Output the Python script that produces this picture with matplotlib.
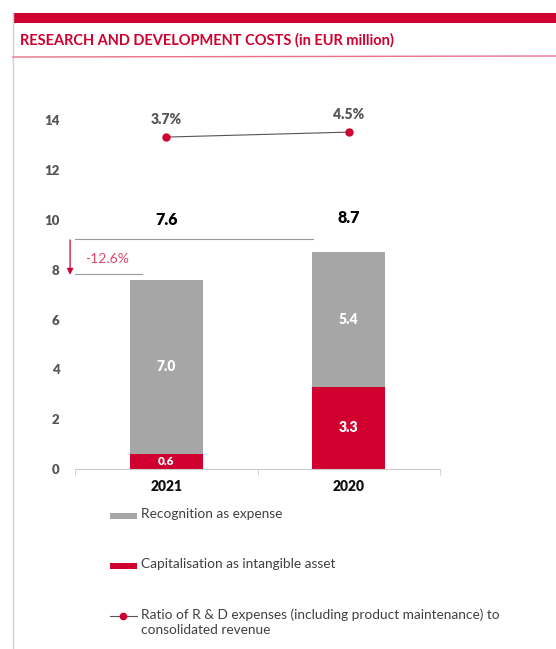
import matplotlib.pyplot as plt
from matplotlib.patches import Rectangle
from matplotlib.lines import Line2D

# data
years = ['2021', '2020']
expense = [7.0, 5.4]        # Recognition as expense
capitalised = [0.6, 3.3]    # Capitalisation as intangible asset
totals = [7.6, 8.7]
ratio = [3.7, 4.5]          # R&D ratio to revenue in %
y_ticks = [0, 2, 4, 6, 8, 10, 12, 14]

legend_labels = ['Recognition as expense',
                 'Capitalisation as intangible asset',
                 'Ratio of R & D expenses (including product maintenance) to\nconsolidated revenue']

RED = '#D0002F'
GREY = '#A6A6A6'
TICK = '#555555'

plt.rcParams['font.family'] = ['Lato', 'DejaVu Sans']

W, H = 556, 649
fig = plt.figure(figsize=(W / 100, H / 100), dpi=100)

# frame decorations (top red band, left rule, title underline)
fig.add_artist(Rectangle((13 / W, 1 - 23 / H), 1, 10 / H, transform=fig.transFigure,
                         color=RED, lw=0))
fig.add_artist(Line2D([13 / W, 13 / W], [0, 1 - 13 / H], transform=fig.transFigure,
                      color='#d0d0d0', lw=1))
fig.add_artist(Line2D([13 / W, 1], [1 - 57 / H, 1 - 56 / H], transform=fig.transFigure,
                      color='#E8708A', lw=1))
fig.text(20 / W, 1 - 40 / H, 'RESEARCH AND DEVELOPMENT COSTS (in EUR million)',
         color=RED, fontsize=10.5, fontweight='bold', va='center', ha='left')

# main axes: x from -0.5..1.5 spans px 75..440, y 0..16 spans px 469..70
ax = fig.add_axes([75 / W, (H - 469) / H, 365 / W, (469 - 70.6) / H])
x = range(len(years))
bw = 0.4
ax.bar(x, capitalised, width=bw, color=RED, zorder=2)
ax.bar(x, expense, width=bw, bottom=capitalised, color=GREY, zorder=2)

ax.set_xlim(-0.5, 1.5)
ax.set_ylim(0, 16)
ax.set_yticks(y_ticks, labels=[str(t) for t in y_ticks], fontweight='heavy',
              color=TICK, fontsize=9.5)
ax.set_xticks(list(x), labels=years, fontweight='heavy', fontsize=10, color='#111111')
ax.set_xticks([-0.5, 0.5, 1.5], minor=True)
ax.tick_params(axis='x', which='major', length=0, pad=8)
ax.tick_params(axis='x', which='minor', length=4, color='#cccccc', direction='out')
ax.tick_params(axis='y', length=0, pad=11)
for s in ['top', 'right', 'left']:
    ax.spines[s].set_visible(False)
ax.spines['bottom'].set_color('#cccccc')

# segment labels
for i in x:
    ax.text(i, capitalised[i] / 2, f'{capitalised[i]:.1f}', ha='center', va='center',
            color='white', fontweight='heavy', fontsize=10 if capitalised[i] > 1 else 8.5)
    ax.text(i, capitalised[i] + expense[i] / 2, f'{expense[i]:.1f}', ha='center',
            va='center', color='white', fontweight='heavy', fontsize=10)
    ax.text(i, 10.0 + 0.1 * i, f'{totals[i]:.1f}', ha='center', va='center',
            color='black', fontweight='heavy', fontsize=11.5)

# change bracket between the two totals
x_arr = -0.527
ax.plot([x_arr, 0.804], [totals[1] + 0.55] * 2, color='#999999', lw=0.8, zorder=3)
ax.plot([x_arr, -0.133], [totals[0] + 0.23] * 2, color='#999999', lw=0.8, zorder=3)
ax.annotate('', xy=(x_arr, totals[0] + 0.2), xytext=(x_arr, totals[1] + 0.5),
            arrowprops=dict(arrowstyle='-|>', color=RED, lw=0.9,
                            mutation_scale=9, shrinkA=0, shrinkB=0),
            annotation_clip=False)
change = (totals[0] - totals[1]) / totals[1] * 100
ax.text(-0.445, 8.43, f'{change:.1f}%', color='#E0456A', fontsize=10,
        ha='left', va='center')

# ratio line on its own hidden scale
ax2 = ax.twinx()
ax2.set_ylim((0 - 12.405) / 0.25, (16 - 12.405) / 0.25)
ax2.plot(x, ratio, color='#555555', lw=0.8, marker='o', markersize=5,
         markerfacecolor=RED, markeredgecolor=RED, zorder=3)
for i in x:
    ax2.annotate(f'{ratio[i]:.1f}%', (i, ratio[i]), xytext=(0, 8),
                 textcoords='offset points', ha='center', va='bottom',
                 color=TICK, fontweight='heavy', fontsize=10)
ax2.axis('off')

# legend (drawn by hand to keep the wide spacing)
leg_y = [516, 566, 616]
for k, (lab, yy) in enumerate(zip(legend_labels, leg_y)):
    yf = 1 - yy / H
    if k < 2:
        fig.add_artist(Rectangle((110 / W, yf - 3 / H), 27 / W, 6 / H,
                                 transform=fig.transFigure,
                                 color=[GREY, RED][k], lw=0))
    else:
        fig.add_artist(Line2D([110 / W, 137 / W], [yf, yf], transform=fig.transFigure,
                              color='#555555', lw=0.8))
        fig.add_artist(Line2D([123 / W], [yf], transform=fig.transFigure,
                              marker='o', markersize=4.5, color=RED))
    fig.text(141 / W, yf + 7.5 / H, lab, color='#404040', fontsize=9.8,
             ha='left', va='top', linespacing=1.3)

plt.savefig('out.png', dpi=100)
